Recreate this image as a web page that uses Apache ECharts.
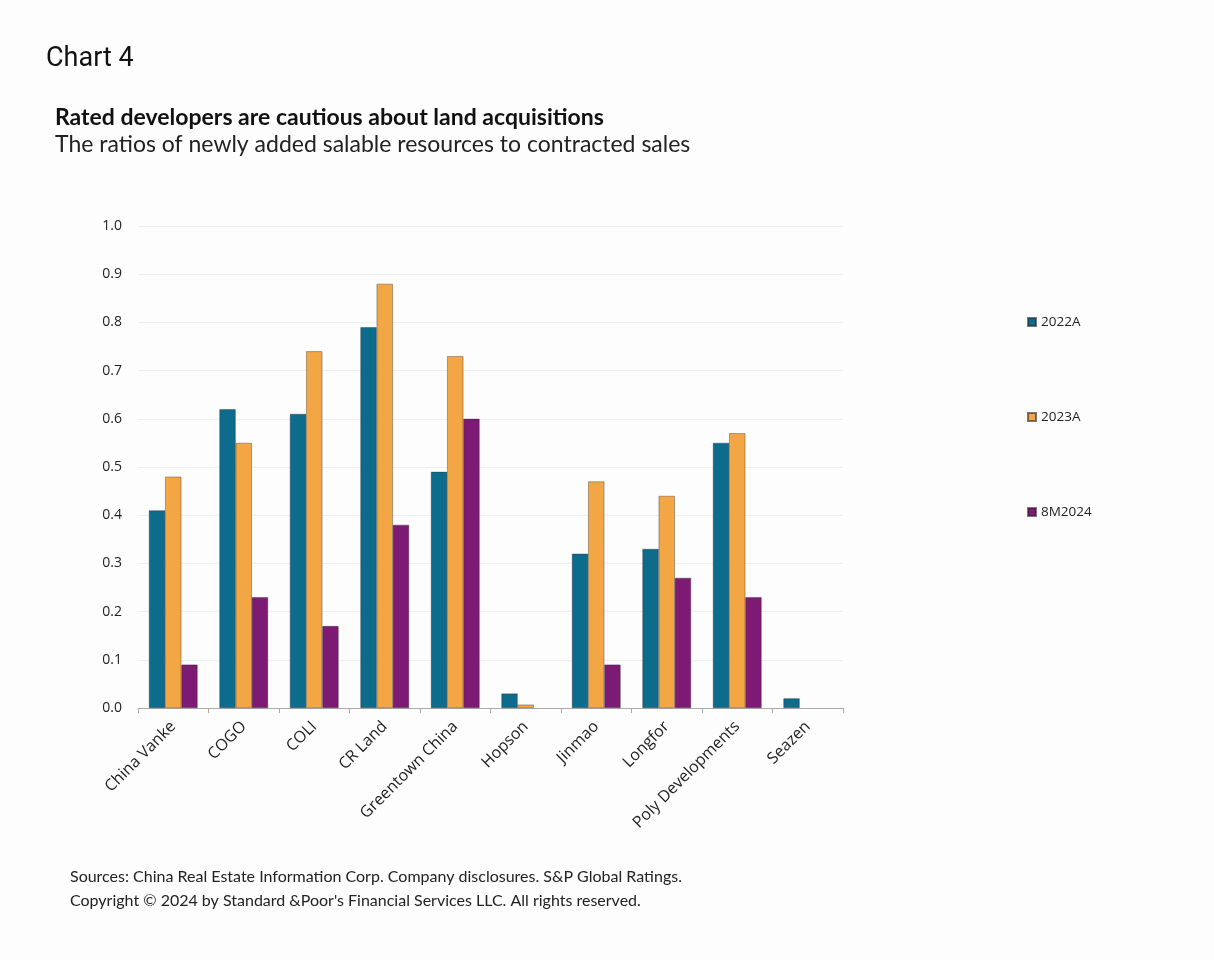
<!DOCTYPE html>
<html>
<head>
<meta charset="utf-8">
<script src="https://cdn.jsdelivr.net/npm/echarts@6/dist/echarts.min.js"></script>
<style>
html,body{margin:0;padding:0;background:#fdfdfe;}
#c{width:1214px;height:960px;}
</style>
</head>
<body>
<div id="c"></div>
<script>
const categories = ["China Vanke","COGO","COLI","CR Land","Greentown China","Hopson","Jinmao","Longfor","Poly Developments","Seazen"];
const s2022A = [0.41,0.62,0.61,0.79,0.49,0.03,0.32,0.33,0.55,0.02];
const s2023A = [0.48,0.55,0.74,0.88,0.73,0.007,0.47,0.44,0.57,null];
const s8M2024 = [0.09,0.23,0.17,0.38,0.60,null,0.09,0.27,0.23,null];
const yTicks = ["0.0","0.1","0.2","0.3","0.4","0.5","0.6","0.7","0.8","0.9","1.0"];

const chart = echarts.init(document.getElementById('c'));
const font = "'Open Sans', 'Noto Sans', sans-serif";
const lato = "Lato, 'Open Sans', sans-serif";
function bar(name, data, color){
  return {name, type:'bar', data, barGap:'0%', barCategoryGap:'31%',
    itemStyle:{color, borderColor:'rgba(40,30,40,0.6)', borderWidth:0.6}};
}
chart.setOption({
  backgroundColor:'#fdfdfe',
  textStyle:{fontFamily:font},
  title:[
    {text:'Chart 4', left:46, top:46, padding:0, textStyle:{fontSize:27, fontWeight:'normal', color:'#111', fontFamily:"'Roboto', sans-serif"}},
    {text:'Rated developers are cautious about land acquisitions', left:55, top:106, padding:0,
     textStyle:{fontSize:23, fontWeight:'bold', color:'#111', fontFamily:lato}},
    {text:'The ratios of newly added salable resources to contracted sales', left:55, top:133, padding:0,
     textStyle:{fontSize:23, fontWeight:'normal', color:'#222', fontFamily:lato}},
    {text:'Sources: China Real Estate Information Corp. Company disclosures. S&P Global Ratings.', left:70, top:869, padding:0,
     textStyle:{fontSize:16, fontWeight:'normal', color:'#222', fontFamily:lato}},
    {text:'Copyright © 2024 by Standard &Poor\'s Financial Services LLC. All rights reserved.', left:70, top:893, padding:0,
     textStyle:{fontSize:16, fontWeight:'normal', color:'#222', fontFamily:lato}}
  ],
  legend:{
    orient:'vertical', left:1022, top:310, itemGap:81, itemWidth:8, itemHeight:8, itemTextGap:3,
    icon:'rect', textStyle:{fontSize:13.5, color:'#222'},
    data:['2022A','2023A','8M2024']
  },
  grid:{left:138, right:371, top:226, bottom:252, containLabel:false},
  xAxis:{
    type:'category', data:categories,
    axisLine:{lineStyle:{color:'#aaa'}},
    axisTick:{show:true, alignWithLabel:false, lineStyle:{color:'#aaa'}},
    axisLabel:{rotate:45, fontSize:16, color:'#222', margin:16, interval:0}
  },
  yAxis:{
    type:'value', min:0, max:1, interval:0.1,
    axisLabel:{fontSize:14, color:'#222', margin:16, formatter:v=>yTicks[Math.round(v*10)]},
    splitLine:{lineStyle:{color:'#eceef0'}},
    axisLine:{show:false}, axisTick:{show:false}
  },
  series:[
    bar('2022A', s2022A, '#0d6b8c'),
    bar('2023A', s2023A, '#f2a744'),
    bar('8M2024', s8M2024, '#7d1b74')
  ]
});
</script>
</body>
</html>
